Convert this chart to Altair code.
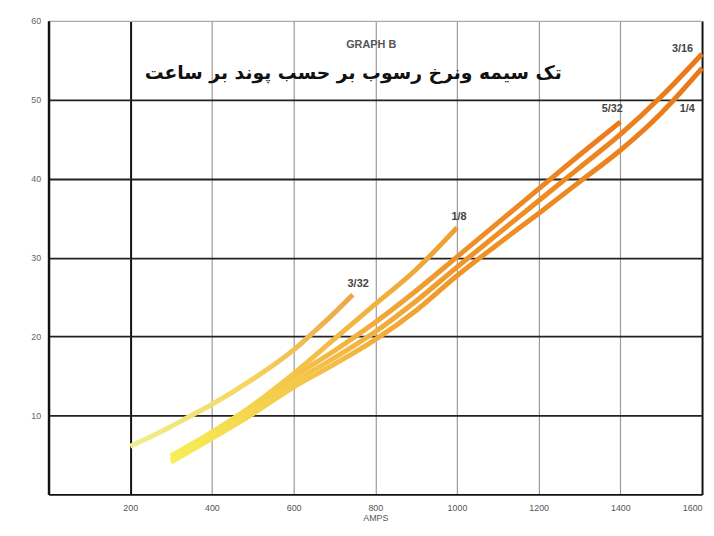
import altair as alt
import pandas as pd

# ---- data (AMPS vs deposition) ----
amps_332 = [200, 250, 300, 350, 400, 500, 600, 650, 700, 745]
dep_332 = [6.1, 7.3, 8.6, 10.0, 11.4, 14.6, 18.3, 20.6, 23.0, 25.3]

amps_18 = [300, 400, 500, 600, 700, 800, 900, 1000]
dep_18 = [4.9, 7.9, 11.3, 15.3, 19.7, 24.1, 28.5, 33.8]

amps_532 = [300, 400, 500, 600, 700, 800, 900, 1000, 1100, 1200, 1300, 1400]
dep_532 = [4.7, 7.7, 11.1, 14.9, 18.2, 21.8, 25.8, 30.1, 34.4, 38.7, 43.0, 47.2]

amps_316 = [300, 400, 500, 600, 700, 800, 900, 1000, 1100, 1200, 1300, 1400, 1500, 1600]
dep_316 = [4.4, 7.4, 10.6, 14.2, 17.3, 20.6, 24.5, 28.8, 33.0, 37.2, 41.4, 45.6, 50.4, 55.8]

amps_14 = [300, 400, 500, 600, 700, 800, 900, 1000, 1100, 1200, 1300, 1400, 1500, 1600]
dep_14 = [4.1, 7.1, 10.2, 13.6, 16.5, 19.6, 23.3, 27.7, 31.7, 35.6, 39.6, 43.6, 48.3, 54.0]

series_names = ["3/32", "1/8", "5/32", "3/16", "1/4"]
label_amps = [758, 1005, 1380, 1552, 1564]
label_dep = [26.6, 35.2, 48.8, 56.4, 48.8]

x_ticks = [200, 400, 600, 800, 1000, 1200, 1400, 1600]
y_ticks = [10, 20, 30, 40, 50, 60]

title_en = "GRAPH B"
title_fa = "تک سیمه ونرخ رسوب بر حسب پوند بر ساعت"
x_title = "AMPS"

# ---- scales ----
xs = alt.Scale(domain=[0, 1600], nice=False, zero=False)
ys = alt.Scale(domain=[0, 60], nice=False)

xaxis = alt.Axis(values=x_ticks, title=x_title, ticks=False, labelPadding=9,
                 format="d",
                 labelFontSize=9, labelColor="#555", titleFontSize=9,
                 titleColor="#555", titlePadding=1, titleFontWeight="normal",
                 domainColor="#111", domainWidth=2,
                 grid=True,
                 gridColor=alt.condition("datum.value == 200 || datum.value == 1600",
                                         alt.value("#111"), alt.value("#9a9a9a")),
                 gridWidth=alt.condition("datum.value == 200 || datum.value == 1600",
                                         alt.value(2), alt.value(1.2)),
                 labelFlush=True)
yaxis = alt.Axis(values=y_ticks, title=None, ticks=False, labelPadding=8,
                 labelFontSize=9, labelColor="#666", domainColor="#111",
                 domainWidth=2.5, grid=True,
                 gridColor=alt.condition("datum.value == 60",
                                         alt.value("#aaaaaa"), alt.value("#222")),
                 gridWidth=alt.condition("datum.value == 60",
                                         alt.value(1.2), alt.value(1.8)))

frame = pd.DataFrame({"a": [0], "d": [0]})
base_axes = alt.Chart(frame).mark_point(opacity=0).encode(
    x=alt.X("a:Q", scale=xs, axis=xaxis),
    y=alt.Y("d:Q", scale=ys, axis=yaxis),
)


def grad(stops):
    return alt.Gradient(
        gradient="linear",
        stops=[alt.GradientStop(offset=o, color=c) for o, c in stops],
        x1=0, x2=1, y1=0, y2=0,
    )


series = [
    (amps_332, dep_332, [(0, "#f2ee8e"), (0.5, "#f5d862"), (1, "#eea446")]),
    (amps_18, dep_18, [(0, "#f6ef58"), (0.5, "#f3bf48"), (1, "#ee9e32")]),
    (amps_532, dep_532, [(0, "#f6ef58"), (0.35, "#f2b844"), (0.65, "#ee9028"), (1, "#eb7a1c")]),
    (amps_316, dep_316, [(0, "#f6ef58"), (0.3, "#f3bd46"), (0.55, "#ef9428"), (1, "#ea7818")]),
    (amps_14, dep_14, [(0, "#f6ef58"), (0.3, "#f3bd46"), (0.55, "#ef9428"), (1, "#ea7818")]),
]

lines = []
for a, d, st in series:
    df = pd.DataFrame({"a": a, "d": d})
    lines.append(
        alt.Chart(df).mark_line(color=grad(st), strokeWidth=5, interpolate="monotone",
                                strokeCap="butt").encode(
            x=alt.X("a:Q", scale=xs), y=alt.Y("d:Q", scale=ys))
    )

lab_df = pd.DataFrame({"name": series_names, "a": label_amps, "d": label_dep})
labels = alt.Chart(lab_df).mark_text(fontSize=11, font="Liberation Sans",
                                     fontWeight="bold", color="#444").encode(
    x=alt.X("a:Q", scale=xs), y=alt.Y("d:Q", scale=ys), text="name:N")

t_df = pd.DataFrame({"t": [title_en], "a": [790], "d": [56.9]})
t1 = alt.Chart(t_df).mark_text(fontSize=11, font="Liberation Sans",
                               fontWeight="bold", color="#555").encode(
    x=alt.X("a:Q", scale=xs), y=alt.Y("d:Q", scale=ys), text="t:N")

f_df = pd.DataFrame({"t": [title_fa], "a": [746], "d": [53.4]})
t2 = alt.Chart(f_df).mark_text(fontSize=19, font="DejaVu Sans",
                               fontWeight="bold", color="#111").encode(
    x=alt.X("a:Q", scale=xs), y=alt.Y("d:Q", scale=ys), text="t:N")

chart = alt.layer(base_axes, *lines, labels, t1, t2).properties(
    width=661, height=479,
    autosize=alt.AutoSizeParams(type="none"),
    padding={"left": 41, "top": 10, "right": 4, "bottom": 28},
    background="white",
).configure_view(stroke=None)

chart.save("out.html", embed_options={"renderer": "svg", "actions": False})
